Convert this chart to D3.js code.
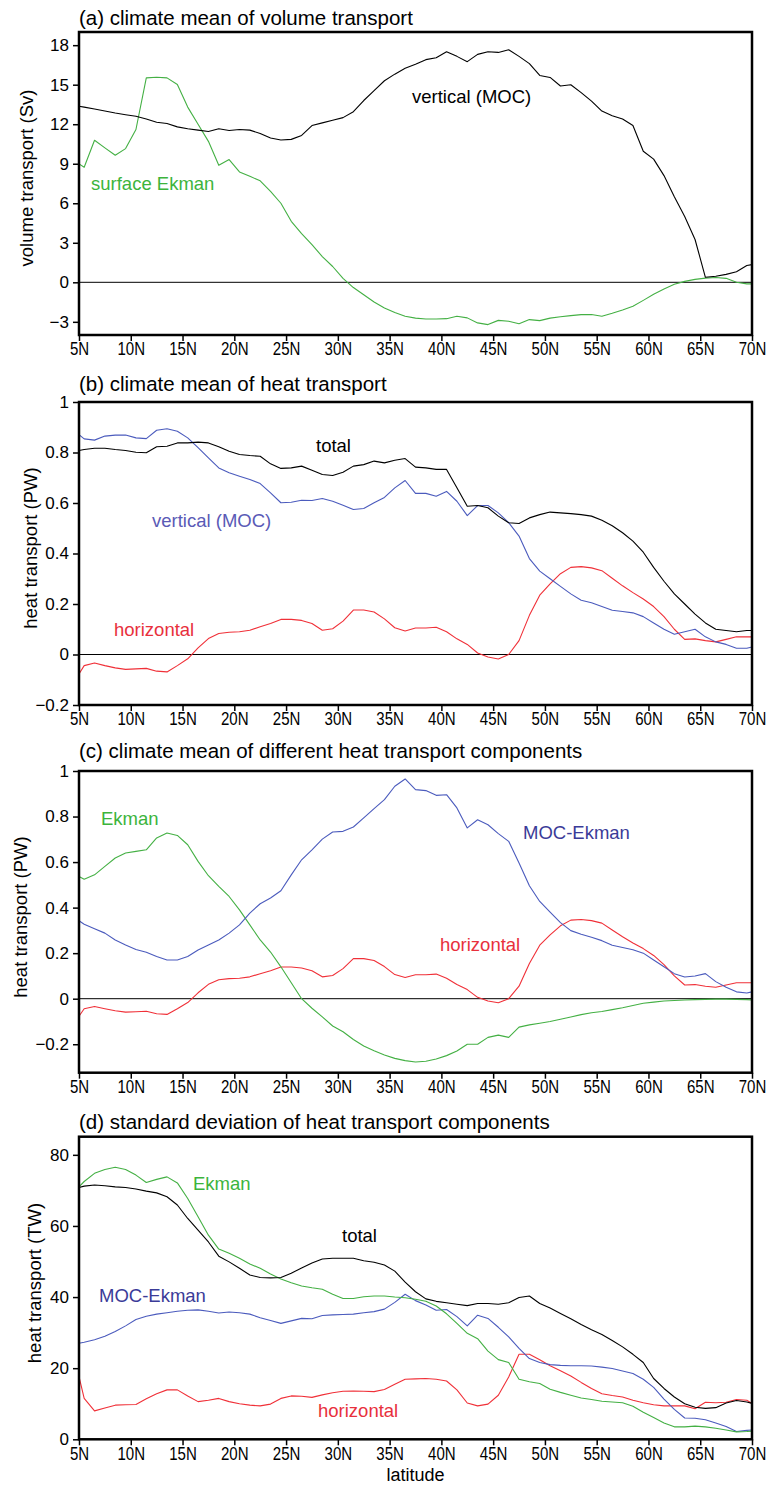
<!DOCTYPE html>
<html><head><meta charset="utf-8">
<script src="https://cdn.jsdelivr.net/npm/d3@7"></script>
<style>
body{margin:0;background:#fff}
svg{display:block}
text{font-family:"Liberation Sans",Arial,Helvetica,sans-serif;fill:#000}
</style>
</head><body>
<svg id="c" width="769" height="1486"></svg>
<script>
// ---------------- data ----------------
const LAT = [5,5.5,6.5,7.5,8.5,9.5,10.5,11.5,12.5,13.5,14.5,15.5,16.5,17.5,18.5,19.5,20.5,21.5,22.5,23.5,24.5,25.5,26.5,27.5,28.5,29.5,30.5,31.5,32.5,33.5,34.5,35.5,36.5,37.5,38.5,39.5,40.5,41.5,42.5,43.5,44.5,45.5,46.5,47.5,48.5,49.5,50.5,51.5,52.5,53.5,54.5,55.5,56.5,57.5,58.5,59.5,60.5,61.5,62.5,63.5,64.5,65.5,66.5,67.5,68.5,69.5,70];

const X_TICKS = [5,10,15,20,25,30,35,40,45,50,55,60,65,70];
const X_TICK_LABELS = ["5N","10N","15N","20N","25N","30N","35N","40N","45N","50N","55N","60N","65N","70N"];

// (a) volume transport (Sv)
const volMOC = [13.36,13.3,13.15,13.0,12.85,12.72,12.6,12.4,12.15,12.05,11.8,11.65,11.55,11.45,11.65,11.52,11.6,11.55,11.3,10.95,10.8,10.85,11.15,11.9,12.1,12.3,12.5,12.95,13.8,14.55,15.3,15.8,16.25,16.55,16.9,17.05,17.5,17.15,16.75,17.3,17.5,17.45,17.65,17.15,16.6,15.7,15.55,14.9,15.0,14.4,13.75,13.0,12.65,12.4,11.9,9.95,9.35,8.1,6.5,5.0,3.25,0.38,0.46,0.6,0.8,1.27,1.34];
const volEkman = [8.99,8.73,10.78,10.2,9.64,10.15,11.6,15.52,15.57,15.52,15.01,13.3,12.0,10.7,8.88,9.32,8.38,8.05,7.7,6.9,6.0,4.63,3.7,2.86,1.95,1.2,0.3,-0.4,-0.95,-1.5,-1.95,-2.3,-2.58,-2.72,-2.78,-2.78,-2.76,-2.58,-2.7,-3.08,-3.21,-2.89,-2.96,-3.14,-2.83,-2.91,-2.72,-2.62,-2.53,-2.45,-2.45,-2.58,-2.35,-2.1,-1.82,-1.37,-0.9,-0.5,-0.15,0.07,0.22,0.32,0.36,0.3,0.0,-0.12,-0.12];
const A_TICKS = [-3,0,3,6,9,12,15,18];
const A_TICK_LABELS = ["\u22123","0","3","6","9","12","15","18"];

// (b) heat transport (PW)
const heatTotal = [0.808,0.812,0.817,0.817,0.812,0.808,0.801,0.799,0.823,0.825,0.838,0.838,0.841,0.838,0.823,0.805,0.792,0.788,0.785,0.755,0.737,0.739,0.746,0.73,0.713,0.709,0.722,0.746,0.752,0.766,0.759,0.769,0.776,0.742,0.739,0.733,0.733,0.66,0.587,0.59,0.581,0.548,0.522,0.519,0.541,0.554,0.564,0.561,0.558,0.554,0.548,0.532,0.51,0.482,0.449,0.405,0.345,0.29,0.24,0.2,0.16,0.125,0.1,0.095,0.09,0.095,0.095];
const heatMOC = [0.871,0.854,0.849,0.865,0.869,0.869,0.858,0.855,0.888,0.894,0.884,0.858,0.819,0.779,0.739,0.72,0.706,0.693,0.677,0.64,0.601,0.603,0.611,0.61,0.618,0.607,0.591,0.574,0.578,0.601,0.622,0.66,0.689,0.638,0.638,0.627,0.646,0.607,0.55,0.59,0.59,0.561,0.522,0.469,0.38,0.33,0.3,0.27,0.24,0.215,0.205,0.19,0.175,0.17,0.165,0.15,0.125,0.1,0.08,0.09,0.1,0.07,0.05,0.04,0.025,0.025,0.03];
const heatHoriz = [-0.077,-0.044,-0.034,-0.044,-0.053,-0.059,-0.057,-0.055,-0.066,-0.069,-0.044,-0.017,0.026,0.063,0.083,0.088,0.09,0.096,0.11,0.123,0.139,0.139,0.135,0.123,0.096,0.102,0.132,0.176,0.176,0.168,0.141,0.106,0.093,0.105,0.105,0.108,0.09,0.062,0.04,0.006,-0.01,-0.018,0.0,0.055,0.155,0.235,0.28,0.32,0.345,0.348,0.343,0.332,0.302,0.272,0.245,0.22,0.19,0.15,0.1,0.06,0.062,0.055,0.05,0.06,0.07,0.07,0.07];
const B_TICKS = [-0.2,0,0.2,0.4,0.6,0.8,1];
const B_TICK_LABELS = ["\u22120.2","0","0.2","0.4","0.6","0.8","1"];

// (c) heat transport components (PW)
const ekmanHeat = [0.537,0.525,0.544,0.581,0.618,0.64,0.647,0.654,0.706,0.728,0.717,0.676,0.603,0.54,0.493,0.449,0.39,0.324,0.258,0.205,0.14,0.07,0.0,-0.042,-0.08,-0.12,-0.145,-0.179,-0.208,-0.229,-0.247,-0.262,-0.272,-0.278,-0.275,-0.265,-0.25,-0.23,-0.2,-0.2,-0.17,-0.16,-0.17,-0.125,-0.115,-0.108,-0.1,-0.09,-0.08,-0.07,-0.062,-0.056,-0.048,-0.04,-0.03,-0.02,-0.015,-0.01,-0.008,-0.006,-0.004,-0.003,-0.002,-0.002,-0.003,-0.004,-0.005];
const mocEkHeat = [0.342,0.327,0.307,0.288,0.258,0.236,0.216,0.204,0.185,0.17,0.17,0.185,0.214,0.236,0.258,0.288,0.324,0.376,0.417,0.442,0.474,0.544,0.61,0.654,0.701,0.732,0.735,0.754,0.794,0.835,0.874,0.933,0.965,0.918,0.914,0.893,0.896,0.838,0.75,0.786,0.764,0.725,0.691,0.596,0.496,0.427,0.38,0.334,0.299,0.283,0.27,0.255,0.235,0.225,0.215,0.2,0.17,0.14,0.11,0.095,0.1,0.11,0.075,0.05,0.03,0.025,0.03];
const C_TICKS = [-0.2,0,0.2,0.4,0.6,0.8,1];
const C_TICK_LABELS = ["\u22120.2","0","0.2","0.4","0.6","0.8","1"];

// (d) standard deviation (TW)
const stdTotal = [70.8,71.2,71.5,71.3,71.0,70.8,70.4,69.8,69.3,68.2,65.9,62.1,58.8,55.5,51.5,49.9,48.1,46.2,45.5,45.4,45.5,46.7,48.2,49.6,50.7,50.9,50.9,50.9,50.2,49.8,49.0,47.3,44.2,41.5,39.5,38.8,38.4,38.0,37.6,38.2,38.2,38.0,38.4,39.9,40.3,38.2,36.9,35.4,33.9,32.3,30.8,29.5,27.8,26.0,23.9,21.6,17.1,14.3,11.9,10.0,9.0,8.7,8.9,10.2,10.9,10.5,10.1];
const stdEkman = [71.0,72.5,74.8,75.9,76.5,75.9,74.3,72.2,73.1,73.8,72.1,67.7,62.6,57.4,53.5,52.3,50.9,49.3,48.1,46.5,45.1,44.0,43.1,42.6,42.2,40.8,39.6,39.6,40.1,40.3,40.3,40.0,39.8,39.4,38.8,37.5,35.3,32.6,29.8,28.3,24.8,22.4,21.6,16.9,16.2,15.7,14.1,13.2,12.4,11.6,11.2,10.7,10.5,10.3,9.3,7.6,6.1,4.6,3.5,3.5,3.7,3.5,3.1,2.6,2.1,2.2,2.3];
const stdMocEk = [27.0,27.3,28.0,29.0,30.3,31.9,33.7,34.6,35.2,35.6,36.0,36.3,36.4,36.0,35.5,35.8,35.6,35.2,34.2,33.4,32.6,33.3,34.0,33.9,34.8,35.0,35.1,35.2,35.6,35.9,36.6,38.5,40.8,39.0,37.8,36.3,36.5,34.5,31.9,34.9,34.0,31.5,28.8,25.6,22.7,21.6,21.0,20.8,20.7,20.7,20.6,20.3,19.9,19.2,18.5,16.9,14.6,11.3,8.4,6.0,5.9,5.5,4.6,3.6,2.2,2.5,2.6];
const stdHoriz = [17.6,11.5,8.0,8.8,9.6,9.7,9.8,11.4,12.8,13.9,13.9,12.2,10.6,11.0,11.5,10.6,10.0,9.6,9.4,9.9,11.5,12.2,12.1,11.8,12.5,13.1,13.5,13.6,13.5,13.4,14.0,15.5,16.9,17.0,17.1,16.9,16.4,13.9,10.2,9.4,9.9,12.4,17.5,23.9,23.9,22.4,20.7,19.3,17.8,16.0,14.3,12.8,12.3,11.9,11.0,10.3,9.7,9.4,9.4,9.4,8.6,10.4,10.3,10.4,11.2,11.0,10.1];
const D_TICKS = [0,20,40,60,80];
const D_TICK_LABELS = ["0","20","40","60","80"];

// ---------------- styles ----------------
const GREEN = "#44b044", BLUE = "#4b5bbd", RED = "#f03038", BLACK = "#000";
const GREEN_T = "#3cb43c", INDIGO_T = "#3b3b98", BLUE_T = "#5a5ab6", RED_T = "#e8303c";

const panels = [
  {title:"(a) climate mean of volume transport", titleY:25, top:32, bottom:335, domain:[-4,19],
   ticks:A_TICKS, tickLabels:A_TICK_LABELS, ylabel:"volume transport (Sv)", ylabelX:33, ylabelY:178, zero:true,
   series:[{v:volEkman,c:GREEN},{v:volMOC,c:BLACK}],
   labels:[{t:"vertical (MOC)",x:412,y:103,c:BLACK},{t:"surface Ekman",x:91,y:190,c:GREEN_T}]},
  {title:"(b) climate mean of heat transport", titleY:391, top:402, bottom:705, domain:[-0.2,1],
   ticks:B_TICKS, tickLabels:B_TICK_LABELS, ylabel:"heat transport (PW)", ylabelX:37, ylabelY:548, zero:true,
   series:[{v:heatHoriz,c:RED},{v:heatMOC,c:BLUE},{v:heatTotal,c:BLACK}],
   labels:[{t:"total",x:316,y:452,c:BLACK},{t:"vertical (MOC)",x:152,y:527,c:BLUE_T},{t:"horizontal",x:114,y:636,c:RED_T}]},
  {title:"(c) climate mean of different heat transport components", titleY:758, top:771, bottom:1072.7, domain:[-0.325,1],
   ticks:C_TICKS, tickLabels:C_TICK_LABELS, ylabel:"heat transport (PW)", ylabelX:27, ylabelY:917, zero:true,
   series:[{v:heatHoriz,c:RED},{v:ekmanHeat,c:GREEN},{v:mocEkHeat,c:BLUE}],
   labels:[{t:"Ekman",x:101,y:825,c:GREEN_T},{t:"MOC-Ekman",x:523,y:839,c:INDIGO_T},{t:"horizontal",x:440,y:951,c:RED_T}]},
  {title:"(d) standard deviation of heat transport components", titleY:1129, top:1136.7, bottom:1439.3, domain:[0,85.1],
   ticks:D_TICKS, tickLabels:D_TICK_LABELS, ylabel:"heat transport (TW)", ylabelX:41, ylabelY:1283, zero:false,
   series:[{v:stdHoriz,c:RED},{v:stdMocEk,c:BLUE},{v:stdEkman,c:GREEN},{v:stdTotal,c:BLACK}],
   labels:[{t:"Ekman",x:193,y:1190,c:GREEN_T},{t:"total",x:342,y:1242,c:BLACK},{t:"MOC-Ekman",x:99,y:1302,c:INDIGO_T},{t:"horizontal",x:318,y:1417,c:RED_T}]}
];

// ---------------- draw ----------------
const svg = d3.select("#c");
const X0 = 79, X1 = 752;
const x = d3.scaleLinear().domain([5,70]).range([X0,X1]);

panels.forEach(p => {
  const y = d3.scaleLinear().domain(p.domain).range([p.bottom,p.top]);
  const g = svg.append("g");

  g.append("text").attr("x",X0).attr("y",p.titleY).attr("font-size",20.5).text(p.title);

  if (p.zero) {
    g.append("line").attr("x1",X0).attr("x2",X1).attr("y1",y(0)).attr("y2",y(0))
      .attr("stroke","#000").attr("stroke-width",1);
  }

  const line = d3.line().x((d,i)=>x(LAT[i])).y(d=>y(d));
  p.series.forEach(s => {
    g.append("path").datum(s.v).attr("d",line).attr("fill","none")
      .attr("stroke",s.c).attr("stroke-width",1.1).attr("stroke-linejoin","round");
  });

  p.labels.forEach(l => {
    g.append("text").attr("x",l.x).attr("y",l.y).attr("font-size",18.5).style("fill",l.c).text(l.t);
  });

  const ax = g.append("g").attr("transform",`translate(0,${p.bottom})`)
    .call(d3.axisBottom(x).tickValues(X_TICKS).tickFormat((d,i)=>X_TICK_LABELS[i]).tickSize(6).tickSizeOuter(0).tickPadding(2));
  ax.select(".domain").remove();
  ax.selectAll("line").attr("stroke","#000").attr("stroke-width",1.5);
  ax.selectAll("text").attr("font-size",17.5).attr("fill","#000").attr("transform","scale(0.86,1)");

  const ay = g.append("g").attr("transform",`translate(${X0},0)`)
    .call(d3.axisLeft(y).tickValues(p.ticks).tickFormat((d,i)=>p.tickLabels[i]).tickSize(6).tickSizeOuter(0).tickPadding(4));
  ay.select(".domain").remove();
  ay.selectAll("line").attr("stroke","#000").attr("stroke-width",1.5);
  ay.selectAll("text").attr("font-size",17).attr("fill","#000");

  g.append("text").attr("transform",`translate(${p.ylabelX},${p.ylabelY}) rotate(-90)`)
    .attr("text-anchor","middle").attr("font-size",18.5).text(p.ylabel);

  g.append("rect").attr("x",X0).attr("y",p.top).attr("width",X1-X0).attr("height",p.bottom-p.top)
    .attr("fill","none").attr("stroke","#000").attr("stroke-width",2.5);
});

svg.append("text").attr("x",(X0+X1)/2).attr("y",1481).attr("text-anchor","middle").attr("font-size",18).text("latitude");
</script>
</body></html>
